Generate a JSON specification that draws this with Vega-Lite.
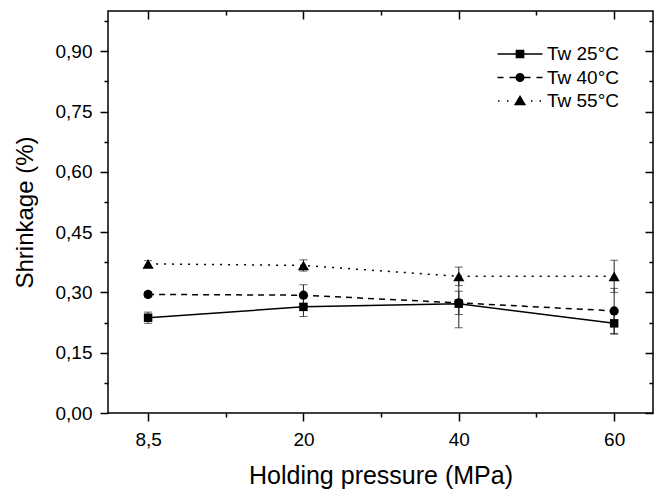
{
  "$schema": "https://vega.github.io/schema/vega-lite/v6.json",
  "width": 545,
  "height": 402,
  "autosize": {"type": "none"},
  "padding": {"left": 108, "top": 11, "right": 10, "bottom": 78},
  "background": "white",
  "config": {
    "view": {"stroke": "black", "strokeWidth": 1.5},
    "font": "Liberation Sans",
    "axis": {
      "domain": false,
      "grid": false,
      "tickColor": "black",
      "tickWidth": 1.5,
      "labelColor": "black",
      "titleColor": "black",
      "labelFont": "Liberation Sans",
      "titleFont": "Liberation Sans",
      "labelFontSize": 19,
      "titleFontWeight": "normal",
      "labelOverlap": false,
      "labelFlush": false,
      "labelBound": false
    }
  },
  "data": {
    "values": [
      {"series": "Tw 25°C", "pos": 0, "pressure": "8,5", "shrinkage": 0.237, "lo": 0.223, "hi": 0.251},
      {"series": "Tw 25°C", "pos": 1, "pressure": "20", "shrinkage": 0.264, "lo": 0.240, "hi": 0.288},
      {"series": "Tw 25°C", "pos": 2, "pressure": "40", "shrinkage": 0.272, "lo": 0.212, "hi": 0.332},
      {"series": "Tw 25°C", "pos": 3, "pressure": "60", "shrinkage": 0.223, "lo": 0.196, "hi": 0.250},
      {"series": "Tw 40°C", "pos": 0, "pressure": "8,5", "shrinkage": 0.295, "lo": 0.289, "hi": 0.301},
      {"series": "Tw 40°C", "pos": 1, "pressure": "20", "shrinkage": 0.293, "lo": 0.267, "hi": 0.319},
      {"series": "Tw 40°C", "pos": 2, "pressure": "40", "shrinkage": 0.274, "lo": 0.245, "hi": 0.303},
      {"series": "Tw 40°C", "pos": 3, "pressure": "60", "shrinkage": 0.254, "lo": 0.198, "hi": 0.310},
      {"series": "Tw 55°C", "pos": 0, "pressure": "8,5", "shrinkage": 0.371, "lo": 0.363, "hi": 0.379},
      {"series": "Tw 55°C", "pos": 1, "pressure": "20", "shrinkage": 0.367, "lo": 0.353, "hi": 0.381},
      {"series": "Tw 55°C", "pos": 2, "pressure": "40", "shrinkage": 0.340, "lo": 0.317, "hi": 0.363},
      {"series": "Tw 55°C", "pos": 3, "pressure": "60", "shrinkage": 0.340, "lo": 0.300, "hi": 0.380}
    ]
  },
  "encoding": {
    "x": {"field": "pos", "type": "quantitative", "scale": {"domain": [-0.258, 3.25], "nice": false, "zero": false}, "axis": null}
  },
  "layer": [
    {
      "transform": [{"filter": "datum.series === 'Tw 25°C'"}],
      "mark": {"type": "line", "color": "black", "strokeWidth": 1.5},
      "encoding": {
        "x": {
          "field": "pos", "type": "quantitative",
          "scale": {"domain": [-0.258, 3.25], "nice": false, "zero": false},
          "axis": {
            "orient": "bottom",
            "values": [0, 0.5, 1, 1.5, 2, 2.5, 3],
            "labelExpr": "datum.value === 0 ? '8,5' : datum.value === 1 ? '20' : datum.value === 2 ? '40' : datum.value === 3 ? '60' : ''",
            "tickSize": {"condition": {"test": "datum.value % 1 === 0", "value": 8}, "value": 4},
            "labelPadding": 9,
            "title": "Holding pressure (MPa)",
            "titleFontSize": 25,
            "titleBaseline": "alphabetic",
            "titleY": 70
          }
        },
        "y": {
          "field": "shrinkage", "type": "quantitative",
          "scale": {"domain": [0, 1], "nice": false},
          "axis": {
            "orient": "left",
            "values": [0, 0.075, 0.15, 0.225, 0.3, 0.375, 0.45, 0.525, 0.6, 0.675, 0.75, 0.825, 0.9, 0.975],
            "labelExpr": "round(datum.value*1000) % 150 === 0 ? replace(format(datum.value, '.2f'), '.', ',') : ''",
            "tickSize": {"condition": {"test": "round(datum.value*1000) % 150 === 0", "value": 8}, "value": 4},
            "labelPadding": 8,
            "title": "Shrinkage (%)",
            "titleFontSize": 24,
            "titleX": -71
          }
        }
      }
    },
    {
      "transform": [{"filter": "datum.series === 'Tw 40°C'"}],
      "mark": {"type": "line", "color": "black", "strokeWidth": 1.5, "strokeDash": [6, 5]},
      "encoding": {
        "y": {"field": "shrinkage", "type": "quantitative", "scale": {"domain": [0, 1], "nice": false}, "axis": null}
      }
    },
    {
      "transform": [{"filter": "datum.series === 'Tw 55°C'"}],
      "mark": {"type": "line", "color": "black", "strokeWidth": 1.5, "strokeDash": [2, 6]},
      "encoding": {
        "y": {"field": "shrinkage", "type": "quantitative", "scale": {"domain": [0, 1], "nice": false}, "axis": null}
      }
    },
    {
      "mark": {"type": "rule", "color": "#222222", "strokeWidth": 1},
      "encoding": {
        "x": {
          "field": "pos", "type": "quantitative",
          "scale": {"domain": [-0.258, 3.25], "nice": false, "zero": false},
          "axis": {
            "orient": "top",
            "values": [0, 0.5, 1, 1.5, 2, 2.5, 3],
            "labels": false,
            "title": null,
            "tickSize": {"condition": {"test": "datum.value % 1 === 0", "value": -8}, "value": -4}
          }
        },
        "y": {
          "field": "lo", "type": "quantitative",
          "scale": {"domain": [0, 1], "nice": false},
          "axis": {
            "orient": "right",
            "values": [0, 0.075, 0.15, 0.225, 0.3, 0.375, 0.45, 0.525, 0.6, 0.675, 0.75, 0.825, 0.9, 0.975],
            "labels": false,
            "title": null,
            "tickSize": {"condition": {"test": "round(datum.value*1000) % 150 === 0", "value": -8}, "value": -4}
          }
        },
        "y2": {"field": "hi"}
      }
    },
    {
      "mark": {"type": "tick", "orient": "horizontal", "color": "#222222", "size": 8, "thickness": 1},
      "encoding": {
        "y": {"field": "lo", "type": "quantitative", "scale": {"domain": [0, 1], "nice": false}, "axis": null}
      }
    },
    {
      "mark": {"type": "tick", "orient": "horizontal", "color": "#222222", "size": 8, "thickness": 1},
      "encoding": {
        "y": {"field": "hi", "type": "quantitative", "scale": {"domain": [0, 1], "nice": false}, "axis": null}
      }
    },
    {
      "transform": [{"filter": "datum.series === 'Tw 25°C'"}],
      "mark": {"type": "point", "shape": "square", "filled": true, "color": "black", "size": 72, "opacity": 1},
      "encoding": {
        "y": {"field": "shrinkage", "type": "quantitative", "scale": {"domain": [0, 1], "nice": false}, "axis": null}
      }
    },
    {
      "transform": [{"filter": "datum.series === 'Tw 40°C'"}],
      "mark": {"type": "point", "shape": "circle", "filled": true, "color": "black", "size": 85, "opacity": 1},
      "encoding": {
        "y": {"field": "shrinkage", "type": "quantitative", "scale": {"domain": [0, 1], "nice": false}, "axis": null}
      }
    },
    {
      "transform": [{"filter": "datum.series === 'Tw 55°C'"}],
      "mark": {"type": "point", "shape": "triangle-up", "filled": true, "color": "black", "size": 125, "opacity": 1},
      "encoding": {
        "y": {"field": "shrinkage", "type": "quantitative", "scale": {"domain": [0, 1], "nice": false}, "axis": null}
      }
    },
    {
      "transform": [{"filter": "datum.pos < 0"}],
      "mark": {"type": "point", "filled": true, "color": "black", "stroke": "black", "strokeWidth": 1.5, "size": 400, "opacity": 1},
      "encoding": {
        "y": {"field": "shrinkage", "type": "quantitative", "scale": {"domain": [0, 1], "nice": false}, "axis": null},
        "shape": {
          "field": "series", "type": "nominal",
          "scale": {
            "domain": ["Tw 25°C", "Tw 40°C", "Tw 55°C"],
            "range": [
              "M-2.25,0H2.25M-0.36,-0.36H0.36V0.36H-0.36Z",
              "M-2.25,0H-1.65M-1.05,0H-0.4M0.4,0H1.05M1.65,0H2.25M-0.38,0A0.38,0.38 0 1,1 0.38,0A0.38,0.38 0 1,1 -0.38,0Z",
              "M-2.2,0H-2.05M-1.3,0H-1.15M1.1,0H1.25M1.95,0H2.1M0,-0.45L0.48,0.36L-0.48,0.36Z"
            ]
          },
          "legend": {
            "orient": "none",
            "legendX": 401,
            "legendY": 32,
            "title": null,
            "padding": 0,
            "labelFont": "Liberation Sans",
            "labelFontSize": 19,
            "labelColor": "black",
            "symbolSize": 400,
            "labelOffset": 16,
            "rowPadding": 2.5,
            "encode": {
              "symbols": {
                "update": {
                  "fill": {"value": "black"},
                  "stroke": {"value": "black"},
                  "strokeWidth": {"value": 1.5},
                  "opacity": {"value": 1}
                }
              }
            }
          }
        }
      }
    }
  ],
  "resolve": {"axis": {"x": "independent", "y": "independent"}}
}
